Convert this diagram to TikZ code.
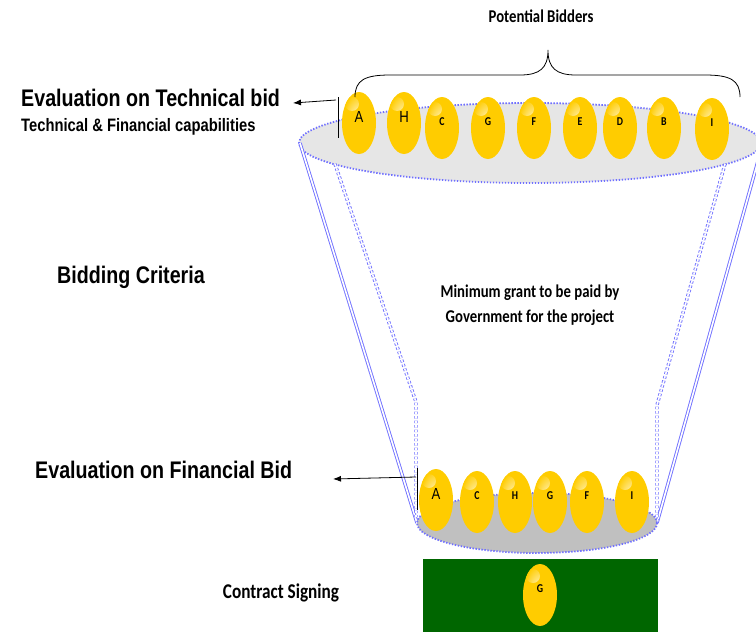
\documentclass[tikz,border=0pt]{standalone}
\usepackage{fontspec}
\usetikzlibrary{shapes.geometric,arrows.meta}
\newfontfamily\narrowsans[FakeStretch=0.82]{Liberation Sans}
\newfontfamily\narrowcal[FakeStretch=0.82]{Carlito}
\definecolor{ballyellow}{HTML}{FFCC00}
\definecolor{funnelblue}{HTML}{7070FF}
\definecolor{rimgray}{HTML}{E6E6E6}
\definecolor{basegray}{HTML}{C0C0C0}
\definecolor{signgreen}{HTML}{006600}
\tikzset{
  ball/.style={ellipse,fill=ballyellow,minimum width=34pt,minimum height=62pt,inner sep=0pt,
    path picture={\shade[inner color=white,outer color=ballyellow]
      ([xshift=-7pt,yshift=19pt]path picture bounding box.center) circle (7pt);}},
  bigtag/.style={font=\narrowsans\fontsize{16}{16}\selectfont,yshift=6pt},
  smalltag/.style={font=\narrowcal\bfseries\fontsize{12}{12}\selectfont,yshift=6pt},
  rim/.style={draw=funnelblue,line width=1.8pt,dash pattern=on 1.4pt off 1.6pt},
  wall/.style={draw=funnelblue,double,double distance=1.6pt,line width=0.9pt},
  innerwall/.style={wall,dash pattern=on 2.5pt off 2pt},
  headtext/.style={font=\narrowsans\bfseries\fontsize{24}{28}\selectfont,inner sep=0pt},
  subtext/.style={font=\narrowsans\bfseries\fontsize{18}{20}\selectfont,inner sep=0pt},
  caltext/.style={font=\narrowcal\bfseries\fontsize{18}{25}\selectfont,inner sep=0pt},
  pointer/.style={-{Latex[length=8pt,width=6pt]},line width=0.8pt},
}
\newcommand\bidder[4]{\node[ball,label={[#4]center:#3}] (#1) at (#2) {};}
\begin{document}
\begin{tikzpicture}[x=1pt,y=-1pt]
\clip (0,0) rectangle (756,632);
% funnel
\fill[rimgray] (530,143) ellipse [x radius=231,y radius=40];
\draw[rim] (530,143) ellipse [x radius=231,y radius=40];
\draw[wall] (300,143) -- (417,523);
\draw[wall] (763,143) -- (657,523);
\draw[innerwall] (335,164) -- (416,402) -- (416,517);
\draw[innerwall] (725,164) -- (657,405) -- (657,520);
\fill[basegray] (537,523) ellipse [x radius=120,y radius=30];
\draw[rim] (537,523) ellipse [x radius=120,y radius=30];
% bidders on top
\bidder{tA}{359,123}{A}{bigtag}
\bidder{tH}{404,123}{H}{bigtag}
\bidder{tC}{442,128}{C}{smalltag}
\bidder{tG}{488,128}{G}{smalltag}
\bidder{tF}{534,128}{F}{smalltag}
\bidder{tE}{580,128}{E}{smalltag}
\bidder{tD}{620,128}{D}{smalltag}
\bidder{tB}{664,128}{B}{smalltag}
\bidder{tI}{712,129}{I}{smalltag}
% short list
\bidder{bA}{436,500}{A}{bigtag}
\bidder{bC}{477,502}{C}{smalltag}
\bidder{bH}{515,502}{H}{smalltag}
\bidder{bG}{550,502}{G}{smalltag}
\bidder{bF}{587,502}{F}{smalltag}
\bidder{bI}{632,502}{I}{smalltag}
% contract
\fill[signgreen] (423,559) rectangle (658,640);
\bidder{win}{540,595}{G}{smalltag}
% brace
\draw[line width=0.8pt] (355,97) .. controls (355,80) and (365,75) .. (390,75) -- (520,75)
  .. controls (540,75) and (548,68) .. (548,50) .. controls (548,68) and (556,75) .. (576,75)
  -- (705,75) .. controls (730,75) and (740,80) .. (740,97);
% texts
\node[caltext,anchor=base] (potential) at (541,22) {Potential Bidders};
\node[headtext,anchor=base west] (evaltech) at (21,106) {Evaluation on Technical bid};
\node[subtext,anchor=base west] (techfin) at (21,131) {Technical \& Financial capabilities};
\node[headtext,anchor=base west] (criteria) at (57,283) {Bidding Criteria};
\node[caltext,align=center] (grant) at (530,305) {Minimum grant to be paid by\\Government for the project};
\node[headtext,anchor=base west] (evalfin) at (35,478) {Evaluation on Financial Bid};
\node[caltext,anchor=base,font=\narrowcal\bfseries\fontsize{21}{25}\selectfont] (contract) at (281,598) {Contract Signing};
% pointers
\draw[line width=0.8pt] (338,97) -- (338,138);
\coordinate (techfoot) at (336,100);
\coordinate (techtip) at (293,103);
\draw[pointer] (techfoot) -- (techtip);
\draw[line width=0.8pt] (417,468) -- (417,510);
\coordinate (finfoot) at (416,477);
\coordinate (fintip) at (333,479);
\draw[pointer] (finfoot) -- (fintip);
\end{tikzpicture}
\end{document}
